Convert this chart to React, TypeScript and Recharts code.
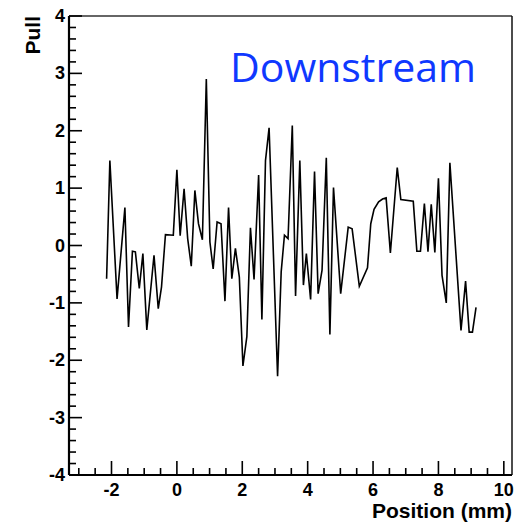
import React from 'react';
import { LineChart, Line, XAxis, YAxis, ReferenceLine } from 'recharts';

// pull vs position
const positions = [
  -2.15, -2.05, -1.83, -1.59, -1.48, -1.36, -1.27, -1.15, -1.04, -0.92,
  -0.7, -0.57, -0.47, -0.35, -0.11, 0.0, 0.1, 0.22, 0.33, 0.44,
  0.55, 0.66, 0.78, 0.9, 1.01, 1.11, 1.23, 1.35, 1.47, 1.58,
  1.68, 1.79, 1.91, 2.02, 2.14, 2.25, 2.36, 2.5, 2.6, 2.71,
  2.82, 3.08, 3.19, 3.29, 3.4, 3.53, 3.63, 3.76, 3.87, 3.96,
  4.09, 4.21, 4.32, 4.44, 4.57, 4.68, 4.79, 5.01, 5.24, 5.36,
  5.58, 5.83, 5.93, 6.03, 6.17, 6.29, 6.4, 6.53, 6.74, 6.85,
  7.23, 7.34, 7.45, 7.57, 7.68, 7.78, 7.89, 8.0, 8.11, 8.24,
  8.35, 8.69, 8.83, 8.94, 9.04, 9.15,
];
const pulls = [
  -0.58, 1.48, -0.93, 0.66, -1.42, -0.1, -0.11, -0.75, -0.14, -1.47,
  -0.17, -1.1, -0.72, 0.19, 0.18, 1.32, 0.17, 0.99, 0.12, -0.36,
  0.96, 0.38, 0.1, 2.9, 0.06, -0.41, 0.41, 0.38, -0.97, 0.66,
  -0.58, -0.05, -0.55, -2.1, -1.59, 0.31, -0.59, 1.23, -1.29, 1.48,
  2.05, -2.28, -0.46, 0.18, 0.12, 2.09, -0.88, 1.48, -0.69, -0.14,
  -0.94, 1.29, -0.84, -0.43, 1.53, -1.55, 1.01, -0.84, 0.32, 0.29,
  -0.71, -0.39, 0.38, 0.63, 0.76, 0.81, 0.83, -0.13, 1.36, 0.8,
  0.77, -0.1, -0.1, 0.73, -0.11, 0.72, -0.12, 1.17, -0.52, -1.0,
  1.44, -1.48, -0.62, -1.51, -1.51, -1.08,
];

const xMajor = [-2, 0, 2, 4, 6, 8, 10];
const yMajor = [-4, -3, -2, -1, 0, 1, 2, 3, 4];
const xDomain: [number, number] = [-3.3, 10.25];
const yDomain: [number, number] = [-4, 4];

const data = positions.map((x, i) => ({ x, pull: pulls[i] }));

// ROOT style minor ticks: 0.5 on x, 0.2 on y
const xTicks = Array.from({ length: 27 }, (_, i) => -3 + i * 0.5);
const yTicks = Array.from({ length: 41 }, (_, i) => Math.round((-4 + i * 0.2) * 10) / 10);

const font = '"Liberation Sans", Arial, sans-serif';

const XTick = (props: any) => {
  const { x, y, payload } = props;
  const major = xMajor.includes(payload.value);
  return (
    <g>
      <line x1={x} x2={x} y1={y} y2={y - (major ? 14 : 7)} stroke="#000" strokeWidth={1.6} />
      {major && (
        <text x={x} y={y + 21} textAnchor="middle" fontSize={18} fontWeight="bold" fontFamily={font} fill="#000">
          {payload.value}
        </text>
      )}
    </g>
  );
};

const YTick = (props: any) => {
  const { x, y, payload } = props;
  const major = Number.isInteger(payload.value);
  return (
    <g>
      <line x1={x} x2={x + (major ? 13 : 7)} y1={y} y2={y} stroke="#000" strokeWidth={1.6} />
      {major && yMajor.includes(payload.value) && (
        <text x={x - 4} y={y + 6} textAnchor="end" fontSize={18} fontWeight="bold" fontFamily={font} fill="#000">
          {payload.value}
        </text>
      )}
    </g>
  );
};

export default function App() {
  return (
    <div style={{ position: 'absolute', left: 0, top: 0, width: 526, height: 523, background: '#fff' }}>
      <LineChart width={526} height={523} data={data} margin={{ top: 16, right: 14, bottom: 0, left: 0 }}>
        <XAxis
          dataKey="x"
          type="number"
          domain={xDomain}
          ticks={xTicks}
          interval={0}
          tick={<XTick />}
          tickSize={0}
          tickMargin={0}
          tickLine={false}
          height={48}
          axisLine={{ stroke: '#000', strokeWidth: 2.2 }}
          allowDataOverflow
          label={{
            content: () => (
              <text x={512} y={518} textAnchor="end" fontSize={21} fontWeight="bold" fontFamily={font} fill="#000">
                Position (mm)
              </text>
            ),
          }}
        />
        <YAxis
          type="number"
          domain={yDomain}
          ticks={yTicks}
          interval={0}
          tick={<YTick />}
          tickSize={0}
          tickMargin={0}
          tickLine={false}
          width={69}
          axisLine={{ stroke: '#000', strokeWidth: 2.2 }}
          allowDataOverflow
          label={{
            content: () => (
              <text
                x={40}
                y={16}
                transform="rotate(-90, 40, 16)"
                textAnchor="end"
                fontSize={21}
                fontWeight="bold"
                fontFamily={font}
                fill="#000"
              >
                Pull
              </text>
            ),
          }}
        />
        <ReferenceLine y={yDomain[1]} stroke="#333" strokeWidth={1.5} />
        <ReferenceLine
          x={xDomain[1]}
          stroke="#111"
          strokeWidth={1.5}
          label={{
            content: () => (
              <text x={230} y={82} fontSize={41} fontFamily='"Open Sans", sans-serif' fill="#0f38ff">
                Downstream
              </text>
            ),
          }}
        />
        <Line
          type="linear"
          dataKey="pull"
          stroke="#000"
          strokeWidth={1.6}
          dot={false}
          isAnimationActive={false}
        />
      </LineChart>
    </div>
  );
}
